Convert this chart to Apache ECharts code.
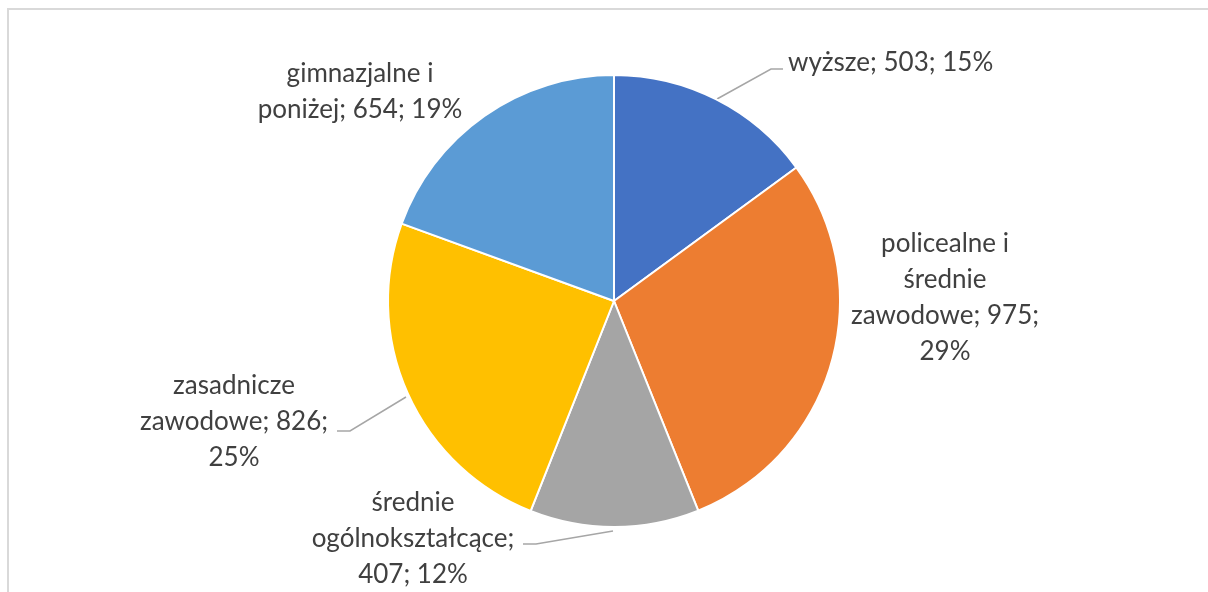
<!DOCTYPE html>
<html>
<head>
<meta charset="utf-8">
<script src="https://cdn.jsdelivr.net/npm/echarts@6/dist/echarts.min.js"></script>
<style>
	html, body { margin: 0; padding: 0; background: #fff; }
	#chart { width: 1208px; height: 592px; position: relative; }
	#frame { position: absolute; left: 7px; top: 8px; right: -10px; bottom: -10px;
		border-left: 2px solid #d9d9d9; border-top: 2px solid #d9d9d9; pointer-events: none; }
</style>
</head>
<body>
<div id="chart"></div>
<div id="frame"></div>
<script>
	// dane wykresu
	const categories = ['wyższe', 'policealne i\nśrednie\nzawodowe', 'średnie\nogólnokształcące', 'zasadnicze\nzawodowe', 'gimnazjalne i\nponiżej'];
	const values = [503, 975, 407, 826, 654];
	const colors = ['#4472C4', '#ED7D31', '#A5A5A5', '#FFC000', '#5B9BD5'];

	// łamanie etykiet: po nazwie i po wartości
	const sepName = ['; ', '; ', ';\n', '; ', '; '];
	const sepValue = ['; ', ';\n', '; ', ';\n', '; '];

	// pozycje etykiet (układ, nie dane)
	const labelPos = [
		{ x: 788, y: 63, align: 'left', line: [[717, 99], [771, 69], [783, 69]] },
		{ x: 945, y: 298, align: 'center' },
		{ x: 413, y: 539, align: 'center', line: [[613, 531], [536, 544], [523, 544]] },
		{ x: 234, y: 422, align: 'center', line: [[406, 397], [350, 431], [337, 431]] },
		{ x: 360, y: 92, align: 'center' }
	];

	const total = values.reduce((a, b) => a + b, 0);

	let myChart = echarts.init(document.getElementById('chart'));
	myChart.setOption({
		animation: false,
		series: [{
			type: 'pie',
			center: [614, 301],
			radius: 226,
			startAngle: 90,
			clockwise: true,
			itemStyle: { borderColor: '#fff', borderWidth: 2 },
			label: {
				show: true,
				position: 'outside',
				color: '#404040',
				fontFamily: 'Lato',
				fontSize: 26,
				lineHeight: 36,
				align: 'center',
				formatter: p => {
					let i = p.dataIndex;
					let pct = Math.round(p.value / total * 100);
					return p.name + sepName[i] + p.value + sepValue[i] + pct + '%';
				}
			},
			labelLine: { show: true, lineStyle: { color: '#a6a6a6', width: 1.5 } },
			labelLayout: params => {
				let lp = labelPos[params.dataIndex];
				let out = { x: lp.x, y: lp.y, align: lp.align, verticalAlign: 'middle' };
				if (lp.line) out.labelLinePoints = lp.line;
				return out;
			},
			data: categories.map((c, i) => ({
				name: c,
				value: values[i],
				itemStyle: { color: colors[i] },
				labelLine: { show: !!labelPos[i].line }
			}))
		}]
	});
</script>
</body>
</html>
